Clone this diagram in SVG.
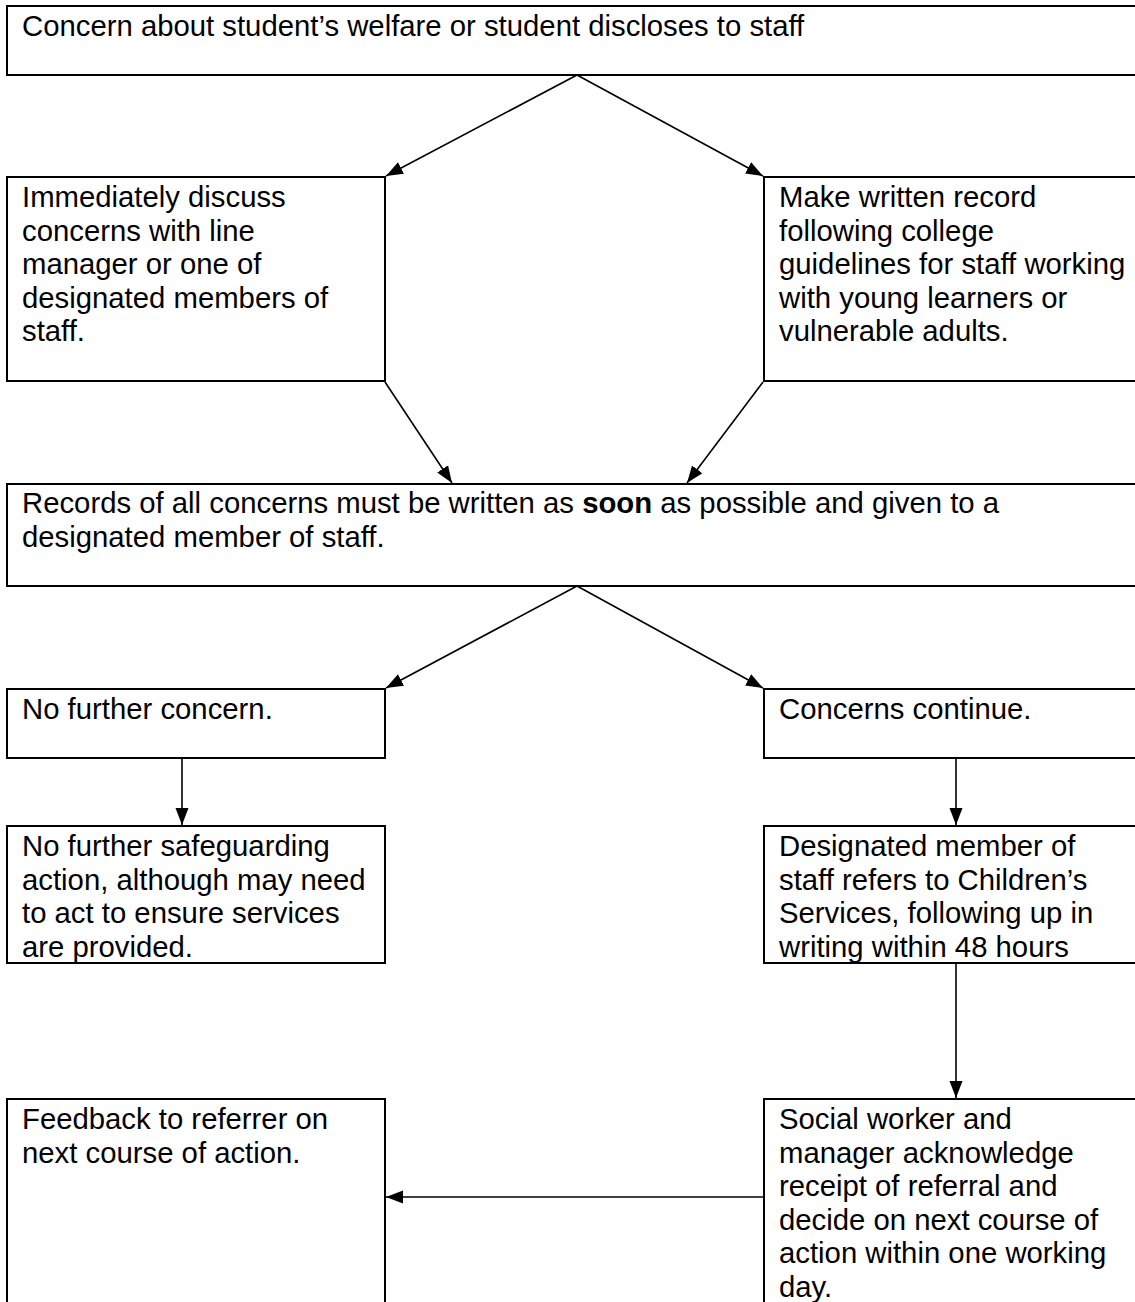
<svg xmlns="http://www.w3.org/2000/svg" width="1135" height="1302" viewBox="0 0 1135 1302">
<defs>
<style>
.box{fill:#fff;stroke:#000;stroke-width:2}
.t{font-family:"Liberation Sans",Arial,sans-serif;font-size:29.3px;fill:#000}
.c{stroke:#000;stroke-width:1.6;fill:none;marker-end:url(#ah)}
</style>
<marker id="ah" markerUnits="userSpaceOnUse" markerWidth="18" markerHeight="14" refX="17" refY="7" orient="auto">
<path d="M0,0.5 L17,7 L0,13.5 z" fill="#000"/>
</marker>
</defs>
<rect width="1135" height="1302" fill="#fff"/>
<g id="n1"><rect class="box" x="7" y="6" width="1140" height="69"/>
<text class="t" x="22" y="36">Concern about student’s welfare or student discloses to staff</text></g>
<g id="n2"><rect class="box" x="7" y="177" width="378" height="204"/>
<text class="t"><tspan x="22" y="207">Immediately discuss</tspan><tspan x="22" y="240.5">concerns with line</tspan><tspan x="22" y="274">manager or one of</tspan><tspan x="22" y="307.5">designated members of</tspan><tspan x="22" y="341">staff.</tspan></text></g>
<g id="n3"><rect class="box" x="764" y="177" width="380" height="204"/>
<text class="t"><tspan x="779" y="207">Make written record</tspan><tspan x="779" y="240.5">following college</tspan><tspan x="779" y="274">guidelines for staff working</tspan><tspan x="779" y="307.5">with young learners or</tspan><tspan x="779" y="341">vulnerable adults.</tspan></text></g>
<g id="n4"><rect class="box" x="7" y="484" width="1140" height="102"/>
<text class="t"><tspan x="22" y="513">Records of all concerns must be written as <tspan font-weight="bold">soon</tspan> as possible and given to a</tspan><tspan x="22" y="546.5">designated member of staff.</tspan></text></g>
<g id="n5"><rect class="box" x="7" y="689" width="378" height="69"/>
<text class="t" x="22" y="719">No further concern.</text></g>
<g id="n6"><rect class="box" x="764" y="689" width="380" height="69"/>
<text class="t" x="779" y="719">Concerns continue.</text></g>
<g id="n7"><rect class="box" x="7" y="826" width="378" height="137"/>
<text class="t"><tspan x="22" y="856">No further safeguarding</tspan><tspan x="22" y="889.5">action, although may need</tspan><tspan x="22" y="923">to act to ensure services</tspan><tspan x="22" y="956.5">are provided.</tspan></text></g>
<g id="n8"><rect class="box" x="764" y="826" width="380" height="137"/>
<text class="t"><tspan x="779" y="856">Designated member of</tspan><tspan x="779" y="889.5">staff refers to Children’s</tspan><tspan x="779" y="923">Services, following up in</tspan><tspan x="779" y="956.5">writing within 48 hours</tspan></text></g>
<g id="n9"><rect class="box" x="7" y="1099" width="378" height="220"/>
<text class="t"><tspan x="22" y="1129">Feedback to referrer on</tspan><tspan x="22" y="1162.5">next course of action.</tspan></text></g>
<g id="n10"><rect class="box" x="764" y="1099" width="380" height="220"/>
<text class="t"><tspan x="779" y="1129">Social worker and</tspan><tspan x="779" y="1162.5">manager acknowledge</tspan><tspan x="779" y="1196">receipt of referral and</tspan><tspan x="779" y="1229.5">decide on next course of</tspan><tspan x="779" y="1263">action within one working</tspan><tspan x="779" y="1296.5">day.</tspan></text></g>
<g id="connectors">
<line class="c" x1="577" y1="75" x2="386" y2="176"/>
<line class="c" x1="577" y1="75" x2="763" y2="176"/>
<line class="c" x1="385" y1="382" x2="452" y2="483"/>
<line class="c" x1="763" y1="382" x2="687" y2="483"/>
<line class="c" x1="577" y1="586" x2="386" y2="688"/>
<line class="c" x1="577" y1="586" x2="763" y2="688"/>
<line class="c" x1="182" y1="759" x2="182" y2="825"/>
<line class="c" x1="956" y1="759" x2="956" y2="825"/>
<line class="c" x1="956" y1="964" x2="956" y2="1098"/>
<line class="c" x1="763" y1="1197" x2="386" y2="1197"/>
</g>
</svg>
